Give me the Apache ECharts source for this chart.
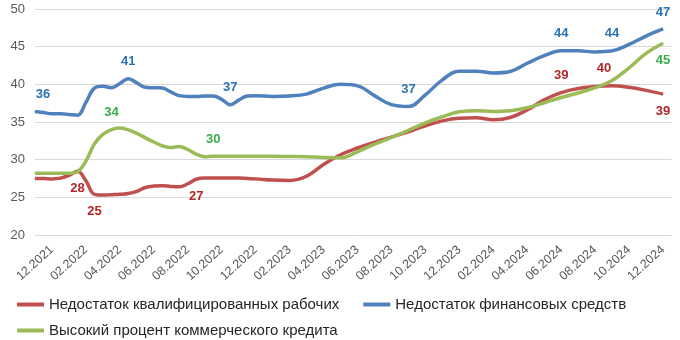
<!DOCTYPE html>
<html>
<head>
<meta charset="utf-8">
<script src="https://cdn.jsdelivr.net/npm/echarts@6/dist/echarts.min.js"></script>
<style>
html,body{margin:0;padding:0;background:#fff;}
#chart{width:680px;height:340px;}
</style>
</head>
<body>
<div id="chart"></div>
<script>
// Months since 12.2021 (0 = 12.2021)
const monthT = [-1,-0.5,0,0.5,1,1.5,2,2.5,3,3.5,4,4.5,5,5.5,6,6.5,7,7.5,8,8.5,9,9.5,10,10.5,11,11.5,12,
  13,14,15,16,17,18,19,20,21,22,23,24,25,26,27,28,29,30,31,32,33,34,35,36];

const seriesNames = [
  'Недостаток квалифицированных рабочих',
  'Недостаток финансовых средств',
  'Высокий процент коммерческого кредита'
];

const workers = [27.5,27.5,27.45,27.55,27.9,28.45,27.2,25.4,25.3,25.35,25.4,25.5,25.8,26.3,26.5,26.55,26.45,26.4,26.8,27.4,27.55,27.55,27.55,27.55,27.55,27.5,27.45,
  27.3,27.25,27.8,29.35,30.65,31.55,32.3,33.0,33.7,34.5,35.15,35.5,35.55,35.3,35.6,36.6,37.95,38.9,39.45,39.7,39.8,39.6,39.2,38.7];

const finance = [36.4,36.25,36.1,36.1,36.0,35.9,37.6,39.5,39.75,39.55,40.1,40.75,40.2,39.6,39.55,39.5,39.0,38.5,38.4,38.4,38.45,38.45,38.0,37.3,37.9,38.45,38.5,
  38.4,38.45,38.7,39.5,40.0,39.8,38.5,37.3,37.05,38.6,40.6,41.75,41.75,41.5,41.7,42.8,43.8,44.45,44.45,44.3,44.45,45.3,46.4,47.35];

const credit = [28.2,28.2,28.2,28.2,28.2,28.4,29.8,32.1,33.35,34.0,34.2,33.95,33.5,32.9,32.35,31.85,31.6,31.75,31.35,30.75,30.4,30.45,30.45,30.45,30.45,30.45,30.45,
  30.45,30.42,30.4,30.3,30.25,31.05,32.05,32.95,33.9,34.9,35.7,36.35,36.5,36.4,36.5,36.9,37.55,38.25,38.85,39.55,40.5,42.2,44.1,45.45];

// Which points carry a value label
const workersLabelsAbove = [30, 33];
const workersLabelsBelow = [1.5, 2.5, 8.5, 36];
const financeLabelsAbove = [-1, 4.5, 10.5, 21, 30, 33, 36];
const creditLabelsAbove = [3.5, 9.5];
const creditLabelsBelow = [36];

// X tick labels
const tickT = [0,2,4,6,8,10,12,14,16,18,20,22,24,26,28,30,32,34,36];
const tickLabels = ['12.2021','02.2022','04.2022','06.2022','08.2022','10.2022','12.2022','02.2023','04.2023',
  '06.2023','08.2023','10.2023','12.2023','02.2024','04.2024','06.2024','08.2024','10.2024','12.2024'];

const yTicks = [20,25,30,35,40,45,50];

const LABEL_FONT = "'Liberation Sans Narrow','Arial Narrow','Liberation Sans',sans-serif";

function buildData(vals, above, below, labelColor, offsets) {
  return monthT.map((t, i) => {
    const item = { value: [t, vals[i]] };
    let pos = null;
    if (above.indexOf(t) >= 0) pos = 'top';
    if (below.indexOf(t) >= 0) pos = 'bottom';
    if (pos) {
      item.label = {
        show: true,
        position: pos,
        distance: 10,
        offset: (offsets && offsets[t]) || [0, 0],
        formatter: (p) => String(Math.round(p.value[1])),
        color: labelColor,
        fontWeight: 'bold',
        fontSize: 13,
        fontFamily: LABEL_FONT
      };
    }
    return item;
  });
}

function makeSeries(name, vals, color, above, below, labelColor, offsets) {
  return {
    name: name,
    type: 'line',
    smooth: 0.4,
    symbol: 'circle',
    symbolSize: 1,
    showSymbol: true,
    itemStyle: { color: color },
    lineStyle: { color: color, width: 3.5 },
    label: { show: false },
    emphasis: { disabled: true },
    data: buildData(vals, above, below, labelColor, offsets)
  };
}

const chart = echarts.init(document.getElementById('chart'), null, { renderer: 'canvas' });
chart.setOption({
  animation: false,
  backgroundColor: '#ffffff',
  grid: { left: 35, right: 8.5, top: 9, bottom: 105 },
  xAxis: {
    type: 'value',
    min: -1,
    max: 36.5,
    splitLine: { show: false },
    axisLine: { show: false },
    axisTick: { show: false },
    axisLabel: {
      customValues: tickT,
      formatter: (v) => { const k = tickT.indexOf(Math.round(v)); return k >= 0 ? tickLabels[k] : ''; },
      rotate: 42,
      margin: 13,
      color: '#595959',
      fontSize: 12.5,
      fontFamily: "'Liberation Sans',sans-serif"
    }
  },
  yAxis: {
    type: 'value',
    min: yTicks[0],
    max: yTicks[yTicks.length - 1],
    interval: 5,
    axisLine: { show: false },
    axisTick: { show: false },
    axisLabel: { color: '#595959', fontSize: 13, margin: 10, fontFamily: "'Liberation Sans',sans-serif" },
    splitLine: { lineStyle: { color: '#d9d9d9', width: 1 } }
  },
  legend: [
    {
      data: [seriesNames[0], seriesNames[1]],
      left: 12, top: 292,
      icon: 'rect', itemWidth: 27, itemHeight: 4, itemGap: 24,
      textStyle: { color: '#262626', fontSize: 15, fontFamily: "'Liberation Sans',sans-serif" },
      selectedMode: false
    },
    {
      data: [seriesNames[2]],
      left: 12, top: 318,
      icon: 'rect', itemWidth: 27, itemHeight: 4,
      textStyle: { color: '#262626', fontSize: 15, fontFamily: "'Liberation Sans',sans-serif" },
      selectedMode: false
    }
  ],
  series: [
    makeSeries(seriesNames[0], workers, '#c0504d', workersLabelsAbove, workersLabelsBelow, '#b3262c', { 33: [-8, 0] }),
    makeSeries(seriesNames[1], finance, '#4f81bd', financeLabelsAbove, [], '#2a73b5', { '-1': [8, 0] }),
    makeSeries(seriesNames[2], credit, '#9bbb59', creditLabelsAbove, creditLabelsBelow, '#3aab4a', null)
  ]
});
</script>
</body>
</html>
